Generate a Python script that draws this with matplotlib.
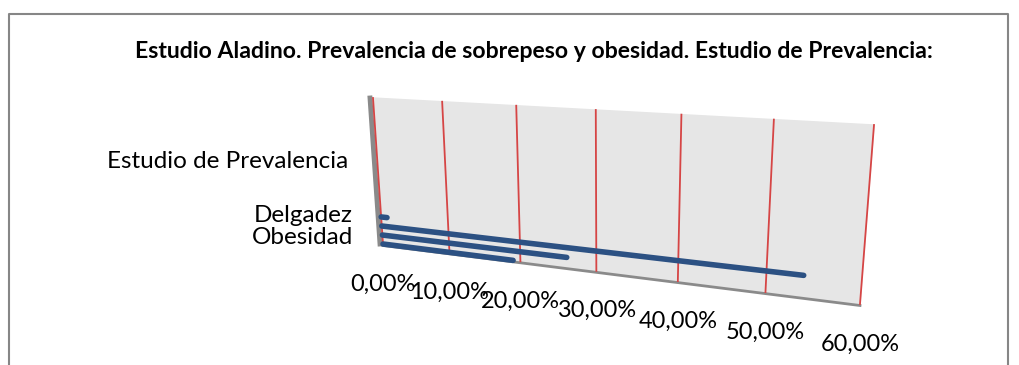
import numpy as np
import matplotlib
matplotlib.use("Agg")
import matplotlib.pyplot as plt
from matplotlib.transforms import Transform, offset_copy

# data (top to bottom)
categories = ["Delgadez", "Normopeso", "Sobrepeso", "Obesidad"]
values = [0.9, 54.0, 26.2, 19.0]
shown_labels = ["Delgadez", "Obesidad"]
ticks = [0, 10, 20, 30, 40, 50, 60]
tick_labels = ["0,00%", "10,00%", "20,00%", "30,00%", "40,00%", "50,00%", "60,00%"]
series_name = "Estudio de Prevalencia"
title = "Estudio Aladino. Prevalencia de sobrepeso y obesidad. Estudio de Prevalencia:"

plt.rcParams['font.family'] = ['Lato', 'DejaVu Sans']


class Perspective(Transform):
    """projective map from (percent, height) to pixel coords of the back wall"""
    input_dims = 2
    output_dims = 2

    def __init__(self, src, dst):
        super().__init__()
        A, b = [], []
        for (x, y), (X, Y) in zip(src, dst):
            A.append([x, y, 1, 0, 0, 0, -x * X, -y * X]); b.append(X)
            A.append([0, 0, 0, x, y, 1, -x * Y, -y * Y]); b.append(Y)
        h = np.linalg.solve(np.array(A, float), np.array(b, float))
        self.H = np.append(h, 1).reshape(3, 3)

    def transform_non_affine(self, values):
        pts = np.asarray(values, float).reshape(-1, 2)
        p = np.column_stack([pts, np.ones(len(pts))]) @ self.H.T
        return p[:, :2] / p[:, 2:3]


fig = plt.figure(figsize=(10.19, 3.65), dpi=100)
ax = fig.add_axes([0, 0, 1, 1])
ax.set_xlim(0, 1019)
ax.set_ylim(365, 0)
ax.axis("off")

# wall corners in pixels
persp = Perspective([(0, 0), (60, 0), (0, 1), (60, 1)],
                    [(383, 244), (860, 304), (373, 98), (874, 125)])
T = persp + ax.transData

# back wall
ax.fill([0, 60, 60, 0], [0, 0, 1, 1], color="#e6e6e6", transform=T, zorder=1)
# wall thickness / floor edge
ax.plot([0, 0], [0, 1], color="#8a8a8a", lw=3.5,
        transform=offset_copy(T, fig=fig, x=-3, y=0, units="dots"), zorder=2)
ax.plot([0, 60], [0, 0], color="#8a8a8a", lw=2,
        transform=offset_copy(T, fig=fig, x=0, y=-1.5, units="dots"), zorder=2)

# gridlines
for t in ticks:
    ax.plot([t, t], [0, 1], color="#d64545", lw=1.3, transform=T, zorder=3)

# bars
step = 0.064
vpos = [step * (len(values) - 1 - i) for i in range(len(values))]
for val, v in zip(values, vpos):
    ax.plot([0, val], [v, v], color="#2c5183", lw=4, solid_capstyle="round",
            transform=T, zorder=4)

# tick labels, centred under each gridline foot
tick_tr = offset_copy(T, fig=fig, x=0, y=-40, units="dots")
for t, lab in zip(ticks, tick_labels):
    ax.text(t, 0, lab, transform=tick_tr, ha="center", va="center",
            fontsize=16.9, color="black")

# category labels
ax.text(353, 216, shown_labels[0], ha="right", va="center", fontsize=17.5)
ax.text(353, 238, shown_labels[1], ha="right", va="center", fontsize=17.5)
ax.text(348, 162, series_name, ha="right", va="center", fontsize=17.5)

ax.text(534, 51, title, ha="center", va="center", fontsize=16.6, fontweight="bold")

# chart frame
ax.plot([9, 9, 1008, 1008], [365, 14, 14, 365], color="#868686", lw=1.5)

fig.savefig("out.png", dpi=100)
